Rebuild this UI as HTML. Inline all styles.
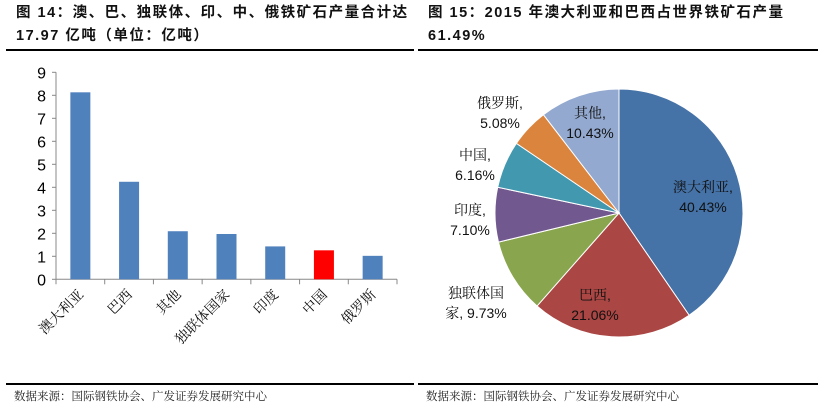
<!DOCTYPE html>
<html><head><meta charset="utf-8"><style>
body{margin:0;background:#fff;width:828px;height:411px;overflow:hidden;font-family:"Liberation Sans","Noto Sans CJK SC",sans-serif}
.t{position:absolute;font-size:14.5px;font-weight:bold;color:#111;line-height:23px}
.f{position:absolute;font-size:11.5px;color:#222;font-family:"Liberation Serif","Noto Serif CJK SC",serif}
.ln{position:absolute;height:2px;background:#000}
</style></head><body>
<div class="t" style="left:16px;top:2px;width:400px;letter-spacing:1.5px">图 14：澳、巴、独联体、印、中、俄铁矿石产量合计达<br>17.97 亿吨（单位：亿吨）</div>
<div class="ln" style="left:6px;top:49px;width:408px"></div>
<div class="t" style="left:428px;top:2px;width:390px;letter-spacing:1.5px">图 15：2015 年澳大利亚和巴西占世界铁矿石产量<br>61.49%</div>
<div class="ln" style="left:418px;top:49px;width:400px"></div>
<div class="ln" style="left:6px;top:383px;width:408px;height:1.5px"></div>
<div class="ln" style="left:418px;top:383px;width:400px;height:1.5px"></div>
<div class="f" style="left:14px;top:388px">数据来源：国际钢铁协会、广发证券发展研究中心</div>
<div class="f" style="left:426px;top:388px">数据来源：国际钢铁协会、广发证券发展研究中心</div>
<svg id="bar" width="414" height="380" style="position:absolute;left:0;top:0"></svg>
<svg id="pie" width="828" height="380" style="position:absolute;left:0;top:0"></svg>
<script>
const categories=["澳大利亚","巴西","其他","独联体国家","印度","中国","俄罗斯"];
const values=[8.13,4.24,2.09,1.97,1.43,1.26,1.02];
const yTicks=[0,1,2,3,4,5,6,7,8,9];
const pieLabels=["澳大利亚","巴西","独联体国家","印度","中国","俄罗斯","其他"];
const pieValues=[40.43,21.06,9.73,7.10,6.16,5.08,10.43];
const NS="http://www.w3.org/2000/svg";
function mk(p,t,a){const e=document.createElementNS(NS,t);for(const k in a)e.setAttribute(k,a[k]);p.appendChild(e);return e;}
const bar=document.getElementById('bar');
const x0=56,x1=397,yb=279.3,yt=72.3,ymax=9;
const y=v=>yb-(v/ymax)*(yb-yt);
const cw=(x1-x0)/categories.length;
const xc=i=>x0+cw*(i+0.5);
let ax=mk(bar,'line',{x1:x0,y1:yt,x2:x0,y2:yb,stroke:'#888'});

let bx=mk(bar,'line',{x1:x0,y1:yb,x2:x1,y2:yb,stroke:'#888'});

yTicks.forEach(v=>{
  mk(bar,'line',{x1:x0-4,y1:y(v),x2:x0,y2:y(v),stroke:'#888'});
  const t=mk(bar,'text',{x:x0-10,y:y(v)+6,'text-anchor':'end','font-size':16,fill:'#000','font-family':'Liberation Sans,sans-serif'});
  t.textContent=v;
  
});
for(let i=0;i<=categories.length;i++)mk(bar,'line',{x1:x0+cw*i,y1:yb,x2:x0+cw*i,y2:yb+5,stroke:'#888'});
categories.forEach((c,i)=>{
  const r=mk(bar,'rect',{x:xc(i)-10,y:y(values[i]),width:20,height:yb-y(values[i]),fill:c==="中国"?'#ff0000':'#4f81bd'});
  
  const t=mk(bar,'text',{x:xc(i)+4,y:yb+16,'text-anchor':'end','font-size':14,fill:'#111','font-family':'Noto Serif CJK SC,serif',transform:`rotate(-45 ${xc(i)+4} ${yb+16})`});
  t.textContent=c;
  
});
const pie=document.getElementById('pie');
const cx=619,cy=213,R=124;
const colors=['#4572a7','#aa4643','#89a54e','#71588f','#4198af','#db843d','#93a9cf'];
const lpos=[[703,192,'#000'],[595,300,'#000'],[476,298,'#000'],[470,215,'#000'],[475,160,'#000'],[500,108,'#000'],[590,118,'#000']];
const total=pieValues.reduce((a,b)=>a+b,0);
let a=0;
pieValues.forEach((v,i)=>{
  const a2=a+v/total*2*Math.PI;
  const p=(ang)=>[cx+R*Math.sin(ang),cy-R*Math.cos(ang)];
  const [sx,sy]=p(a),[ex,ey]=p(a2);
  const s=mk(pie,'path',{d:`M${cx},${cy}L${sx},${sy}A${R},${R} 0 ${a2-a>Math.PI?1:0} 1 ${ex},${ey}Z`,fill:colors[i],stroke:'#fff','stroke-width':1});
  
  const [lx,ly]=lpos[i];
  const t=mk(pie,'text',{x:lx,y:ly,'text-anchor':'middle','font-size':14,fill:'#111','font-family':'Liberation Sans,Noto Serif CJK SC,sans-serif'});
  const name=pieLabels[i],pct=v.toFixed(2)+'%';
  if(name==="独联体国家"){
    mk(t,'tspan',{x:lx,dy:0}).textContent="独联体国";
    mk(t,'tspan',{x:lx,dy:20}).textContent="家, "+pct;
  }else{
    mk(t,'tspan',{x:lx,dy:0}).textContent=name+",";
    mk(t,'tspan',{x:lx,dy:20}).textContent=pct;
  }
  
  a=a2;
});
</script>
</body></html>
